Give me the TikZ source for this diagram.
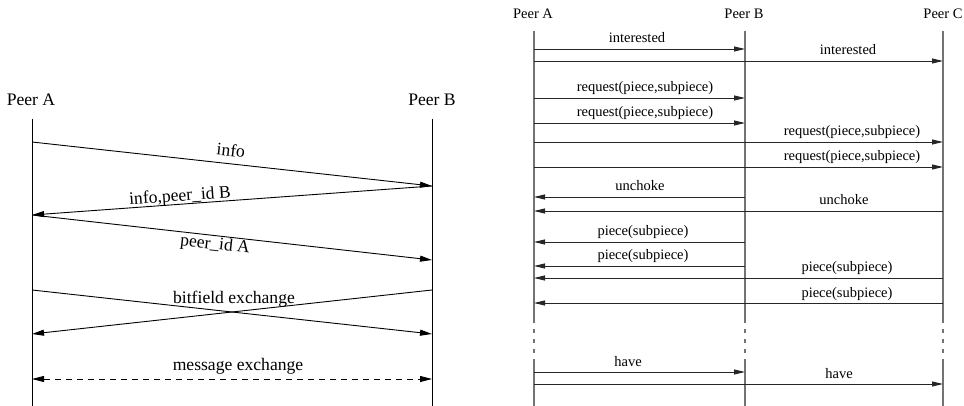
\documentclass[tikz,border=0pt]{standalone}
\usepackage{fontspec}
\setmainfont{Liberation Serif}
\usetikzlibrary{arrows.meta}
\tikzset{
  bigtxt/.style={font=\fontsize{17.6}{20}\selectfont, inner sep=0pt},
  smalltxt/.style={font=\fontsize{14.5}{17}\selectfont, inner sep=0pt},
  lifeL/.style={line width=1pt, black},
  lifeR/.style={line width=1.3pt, black!55},
  msgL/.style={line width=0.9pt, black, -{Triangle[length=12pt,width=6pt]}},
  msgR/.style={line width=0.9pt, black!85, -{Triangle[length=11pt,width=5pt]}},
  lbl/.style={smalltxt, anchor=base},
}
\begin{document}
\begin{tikzpicture}[x=1pt,y=-1pt]
\useasboundingbox[fill=white] (0,0) rectangle (964,406);
% ---------- left diagram ----------
\node[bigtxt] (lA) at (31,100) {Peer A};
\node[bigtxt] (lB) at (432,100) {Peer B};
\coordinate (lAt) at (32,119); \coordinate (lAb) at (32,406);
\coordinate (lBt) at (432,119); \coordinate (lBb) at (432,406);
\draw[lifeL] (lAt) -- (lAb);
\draw[lifeL] (lBt) -- (lBb);
\coordinate (a1) at (32,142); \coordinate (b1) at (432,186);
\coordinate (a2) at (32,215); \coordinate (b2) at (432,260);
\coordinate (a3) at (32,290); \coordinate (b3) at (432,334);
\coordinate (b4) at (432,290); \coordinate (a4) at (32,334);
\coordinate (a5) at (32,379); \coordinate (b5) at (432,379);
\draw[msgL] (a1) -- (b1);
\draw[msgL] (b1) -- (a2);
\draw[msgL] (a2) -- (b2);
\draw[msgL] (a3) -- (b3);
\draw[msgL] (b4) -- (a4);
\draw[msgL, {Triangle[length=12pt,width=6pt]}-{Triangle[length=12pt,width=6pt]}, dash pattern=on 6pt off 5pt] (a5) -- (b5);
\node[bigtxt, rotate=-6.3] (tinfo) at (231,150) {info};
\node[bigtxt, rotate=4.1] (tinfob) at (180,197) {info,peer\_id B};
\node[bigtxt, rotate=-6.4] (tpida) at (215,245) {peer\_id A};
\node[bigtxt] (tbit) at (234,299) {bitfield exchange};
\node[bigtxt] (tmsg) at (238,366) {message exchange};
% ---------- right diagram ----------
\node[smalltxt] (rA) at (533,14) {Peer A};
\node[smalltxt] (rB) at (744,14) {Peer B};
\node[smalltxt] (rC) at (943,14) {Peer C};
\foreach \n/\x in {A/534,B/745,C/943}{
  \coordinate (r\n t) at (\x,31);
  \coordinate (r\n m) at (\x,323);
  \coordinate (r\n n) at (\x,360);
  \coordinate (r\n b) at (\x,406);
  \draw[lifeR] (r\n t) -- (r\n m);
  \draw[lifeR, dash pattern=on 4pt off 6pt, dash phase=-6pt] (r\n m) -- (r\n n);
  \draw[lifeR] (r\n n) -- (r\n b);
}
% A -> B / A -> C
\coordinate (p1a) at (534,49);  \coordinate (p1b) at (745,49);
\coordinate (p2a) at (534,61);  \coordinate (p2c) at (943,61);
\coordinate (p3a) at (534,98);  \coordinate (p3b) at (745,98);
\coordinate (p4a) at (534,123); \coordinate (p4b) at (745,123);
\coordinate (p5a) at (534,142); \coordinate (p5c) at (943,142);
\coordinate (p6a) at (534,167); \coordinate (p6c) at (943,167);
\coordinate (p7b) at (745,197); \coordinate (p7a) at (534,197);
\coordinate (p8c) at (943,211); \coordinate (p8a) at (534,211);
\coordinate (p9b) at (745,242); \coordinate (p9a) at (534,242);
\coordinate (p10b) at (745,266); \coordinate (p10a) at (534,266);
\coordinate (p11c) at (943,278); \coordinate (p11a) at (534,278);
\coordinate (p12c) at (943,303); \coordinate (p12a) at (534,303);
\coordinate (p13a) at (534,372); \coordinate (p13b) at (745,372);
\coordinate (p14a) at (534,384); \coordinate (p14c) at (943,384);
\draw[msgR] (p1a) -- (p1b);
\draw[msgR] (p2a) -- (p2c);
\draw[msgR] (p3a) -- (p3b);
\draw[msgR] (p4a) -- (p4b);
\draw[msgR] (p5a) -- (p5c);
\draw[msgR] (p6a) -- (p6c);
\draw[msgR] (p7b) -- (p7a);
\draw[msgR] (p8c) -- (p8a);
\draw[msgR] (p9b) -- (p9a);
\draw[msgR] (p10b) -- (p10a);
\draw[msgR] (p11c) -- (p11a);
\draw[msgR] (p12c) -- (p12a);
\draw[msgR] (p13a) -- (p13b);
\draw[msgR] (p14a) -- (p14c);
\node[lbl] (l1) at (637,43) {interested};
\node[lbl] (l2) at (848,55) {interested};
\node[lbl] (l3) at (645,92) {request(piece,subpiece)};
\node[lbl] (l4) at (645,117) {request(piece,subpiece)};
\node[lbl] (l5) at (852,136) {request(piece,subpiece)};
\node[lbl] (l6) at (852,161) {request(piece,subpiece)};
\node[lbl] (l7) at (640,191) {unchoke};
\node[lbl] (l8) at (844,205) {unchoke};
\node[lbl] (l9) at (643,236) {piece(subpiece)};
\node[lbl] (l10) at (643,260) {piece(subpiece)};
\node[lbl] (l11) at (847,272) {piece(subpiece)};
\node[lbl] (l12) at (847,297) {piece(subpiece)};
\node[lbl] (l13) at (628,366) {have};
\node[lbl] (l14) at (839,378) {have};
\end{tikzpicture}
\end{document}
